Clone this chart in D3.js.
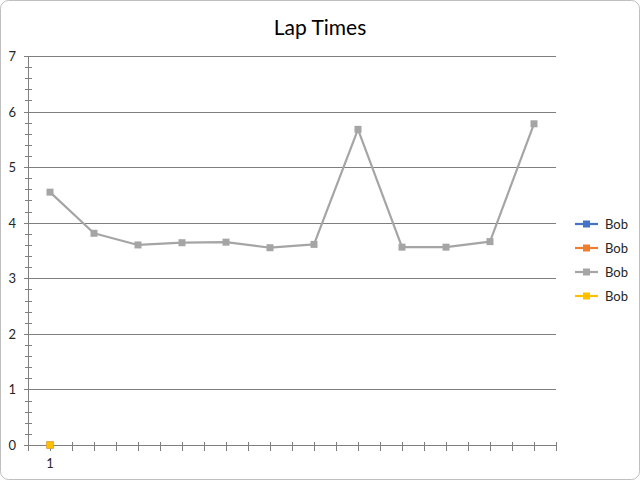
<!DOCTYPE html>
<html><head><meta charset="utf-8">
<script src="https://cdn.jsdelivr.net/npm/d3@7"></script>
<style>
html,body{margin:0;padding:0;background:#fff;}
svg{display:block;font-family:Lato,"Open Sans",sans-serif;}
</style></head>
<body>
<svg id="c" width="640" height="480"></svg>
<script>
const title = "Lap Times";
const categories = [1,2,3,4,5,6,7,8,9,10,11,12];
const categoryLabels = ["1","","","","","","","","","","",""];
const seriesNames = ["Bob","Bob","Bob","Bob"];
const seriesColors = ["#4472C4","#ED7D31","#A5A5A5","#FFC000"];
const series1 = [0];
const series2 = [0];
const series3 = [4.55,3.81,3.60,3.64,3.65,3.55,3.61,5.68,3.56,3.56,3.66,5.78];
const series4 = [0];
const yTicks = [0,1,2,3,4,5,6,7];

const allSeries = [series1, series2, series3, series4];

const svg = d3.select("#c");
const L = 28, R = 556, T = 56, B = 445;

svg.append("rect").attr("x",0.5).attr("y",0.5).attr("width",639).attr("height",479)
  .attr("rx",8).attr("fill","#fff").attr("stroke","#bfbfbf").attr("stroke-width",1);

svg.append("text").attr("x",320).attr("y",35).attr("text-anchor","middle")
  .attr("font-size",21).attr("fill","#000").text(title);

const x = d3.scaleBand().domain(categories).range([L,R]).padding(0);
const xLin = d3.scaleLinear().domain([0,categories.length]).range([L,R]);
const y = d3.scaleLinear().domain([0,7]).range([B,T]);

// gridlines
svg.append("g").selectAll("line").data(yTicks.filter(d=>d>0)).join("line")
  .attr("x1",L).attr("x2",R).attr("y1",d=>Math.round(y(d))+0.5).attr("y2",d=>Math.round(y(d))+0.5)
  .attr("stroke","#7f7f7f").attr("stroke-width",1);

// y axis minor ticks
const minor = d3.range(0,35).map(i=>i*0.2).filter(v=>Math.abs(v-Math.round(v))>1e-6);
const gy = svg.append("g");
gy.append("line").attr("x1",L+0.5).attr("x2",L+0.5).attr("y1",T).attr("y2",B).attr("stroke","#7f7f7f");
gy.selectAll("line.mn").data(minor).join("line").attr("class","mn")
  .attr("x1",L-3).attr("x2",L+4).attr("y1",d=>Math.round(y(d))+0.5).attr("y2",d=>Math.round(y(d))+0.5)
  .attr("stroke","#7f7f7f");
gy.selectAll("line.mj").data(yTicks).join("line").attr("class","mj")
  .attr("x1",L-4).attr("x2",L).attr("y1",d=>Math.round(y(d))+0.5).attr("y2",d=>Math.round(y(d))+0.5)
  .attr("stroke","#7f7f7f");
gy.selectAll("text").data(yTicks).join("text")
  .attr("x",16).attr("y",d=>y(d)+5).attr("text-anchor","end").attr("font-size",13).attr("fill","#262626")
  .text(d=>d);

// x axis
const gx = svg.append("g");
gx.append("line").attr("x1",L).attr("x2",R).attr("y1",B+0.5).attr("y2",B+0.5).attr("stroke","#7f7f7f");
const xt = d3.range(0,categories.length*2+1).map(i=>i/2);
gx.selectAll("line.t").data(xt).join("line").attr("class","t")
  .attr("x1",d=>Math.round(xLin(d))+0.5).attr("x2",d=>Math.round(xLin(d))+0.5)
  .attr("y1",B-3).attr("y2",B+6).attr("stroke","#7f7f7f");
gx.selectAll("text").data(categories).join("text")
  .attr("x",d=>x(d)+x.bandwidth()/2).attr("y",B+23).attr("text-anchor","middle")
  .attr("font-size",13).attr("fill","#262626").text((d,i)=>categoryLabels[i]);

// series
const line = d3.line().x((d,i)=>x(categories[i])+x.bandwidth()/2).y(d=>y(d));
allSeries.forEach((s,k)=>{
  const g = svg.append("g");
  g.append("path").datum(s).attr("d",line).attr("fill","none")
    .attr("stroke",seriesColors[k]).attr("stroke-width",2.2).attr("stroke-linejoin","round");
  g.selectAll("rect").data(s).join("rect")
    .attr("x",(d,i)=>x(categories[i])+x.bandwidth()/2-3.5).attr("y",d=>y(d)-3.5)
    .attr("width",7).attr("height",7).attr("fill",seriesColors[k]);
});

// legend
const lg = svg.append("g");
seriesNames.forEach((n,k)=>{
  const yy = 224 + k*24;
  lg.append("line").attr("x1",575).attr("x2",598).attr("y1",yy).attr("y2",yy)
    .attr("stroke",seriesColors[k]).attr("stroke-width",2.2);
  lg.append("rect").attr("x",583).attr("y",yy-3.5).attr("width",7).attr("height",7).attr("fill",seriesColors[k]);
  lg.append("text").attr("x",605).attr("y",yy+5).attr("font-size",13).attr("fill","#262626").text(n);
});
</script>
</body></html>
